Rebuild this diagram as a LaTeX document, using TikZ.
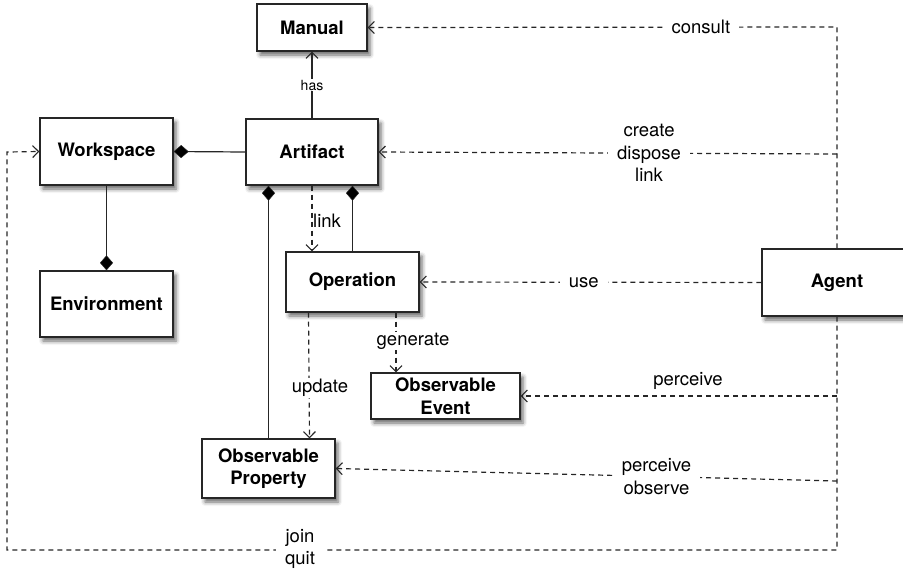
\documentclass[tikz,border=0pt]{standalone}
\usepackage{fontspec}
\setmainfont{TeX Gyre Heros}
\usetikzlibrary{arrows.meta,shadows.blur}
\begin{document}
\begin{tikzpicture}[x=1pt,y=-1pt,
  box/.style={draw=black!85, line width=1.3pt, fill=white, inner sep=0pt, align=center,
    font=\fontsize{18.5}{22.5}\selectfont\bfseries,
    blur shadow={shadow xshift=3pt,shadow yshift=-4pt,shadow blur radius=4pt,shadow opacity=60}},
  conn/.style={draw=black!85, line width=1.2pt},
  dashline/.style={conn, dash pattern=on 5pt off 4pt},
  oarrow/.style={-{Straight Barb[length=6pt,width=12pt,line width=1.1pt]}},
  darrow/.style={-{Diamond[length=15pt,width=13pt,fill=black,line width=0.5pt]}},
  lbl/.style={fill=white, inner xsep=9pt, inner ysep=2pt, align=center, font=\fontsize{18.5}{22.5}\selectfont},
]
\useasboundingbox (0,0) rectangle (903,571);

% nodes
\node[box, minimum width=110pt, minimum height=47pt] (Manual) at (312,27.5) {Manual};
\node[box, minimum width=133pt, minimum height=67pt] (Workspace) at (106.5,151.5) {Workspace};
\node[box, minimum width=132pt, minimum height=66pt] (Artifact) at (312,152) {Artifact};
\node[box, minimum width=133pt, minimum height=66pt] (Environment) at (106.5,304) {Environment};
\node[box, minimum width=133pt, minimum height=60pt] (Operation) at (352.5,282) {Operation};
\node[box, minimum width=149pt, minimum height=46pt] (Event) at (445.5,396) {Observable\\Event};
\node[box, minimum width=133pt, minimum height=59pt] (Property) at (268.5,468.5) {Observable\\Property};
\node[box, minimum width=150pt, minimum height=67pt] (Agent) at (837,282.5) {Agent};

% coordinates on the agent's vertical line
\coordinate (cTop) at (837,27);
\coordinate (cCreate) at (837,154);
\coordinate (cPerc) at (837,396);
\coordinate (cObs) at (837,481);
\coordinate (cBot) at (837,550);
\coordinate (cLeftBot) at (7,550);
\coordinate (cLeftTop) at (7,152);

% structural connectors
\draw[conn, oarrow] (Artifact.north) -- node[lbl, inner sep=1pt, font=\fontsize{14}{16}\selectfont] {has} (Manual.south);
\draw[conn, darrow] (Artifact.west) -- (Workspace.east);
\draw[conn, darrow] (Workspace.south) -- (Environment.north);
\draw[conn, darrow] (Property.north) -- (Property.north |- Artifact.south);
\draw[conn, darrow] (Operation.north) -- (Operation.north |- Artifact.south);

% dashed dependencies
\draw[dashline, oarrow] (Artifact.south) -- (Artifact.south |- Operation.north);
\node[lbl, anchor=west, fill=none, inner sep=1pt] (lLink) at (312,221) {link};
\draw[dashline, oarrow] ([xshift=-44pt]Operation.south) -- ([xshift=-43pt]Operation.south |- Property.north);
\node[lbl, inner sep=1pt] (lUpdate) at (320,388) {update};
\draw[dashline, oarrow] ([xshift=43.5pt]Operation.south) -- ([xshift=43.5pt]Operation.south |- Event.north);
\node[lbl, inner sep=1pt] (lGen) at (413,341) {generate};

\draw[dashline, oarrow] (Agent.north) -- (cTop) -- node[lbl, pos=0.29] {consult} (Manual.east);
\draw[dashline, oarrow] (cCreate) -- node[lbl, pos=0.41] {create\\dispose\\link} (Artifact.east);
\draw[dashline, oarrow] (Agent.west) -- node[lbl, pos=0.52] {use} (Operation.east);
\draw[dashline, oarrow] (cPerc) -- (Event.east);
\node[lbl, fill=none] (lPerc) at (688,381) {perceive};
\draw[dashline, oarrow] (cObs) -- node[lbl, pos=0.36] {perceive\\observe} (Property.east);
\draw[dashline, oarrow] (Agent.south) -- (cBot) -- (cLeftBot) -- (cLeftTop) -- (Workspace.west);
\node[lbl] (lJoin) at (300,549) {join\\quit};
\end{tikzpicture}
\end{document}
